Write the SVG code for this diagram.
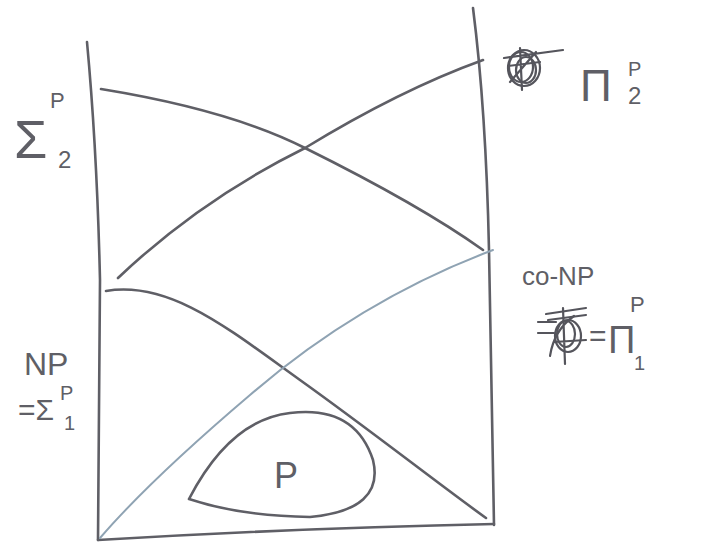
<svg xmlns="http://www.w3.org/2000/svg" width="720" height="550" viewBox="0 0 720 550">
<style>
.ln{fill:none;stroke:#5f5f66;stroke-width:2.6;stroke-linecap:round;stroke-linejoin:round}
.lt{fill:none;stroke:#8fa3b3;stroke-width:2;stroke-linecap:round}
.sc{fill:none;stroke:#55555c;stroke-width:2.2;stroke-linecap:round}
text{font-family:"Liberation Sans","DejaVu Sans",sans-serif;fill:#5f5f66}
</style>
<rect width="720" height="550" fill="#ffffff"/>
<g id="connectors">
<path class="ln" d="M87,42 Q97,150 100,280 L98,540"/>
<path class="ln" d="M473,8 Q486,110 489,250 L494,525"/>
<path class="ln" d="M98,540 Q300,528 494,524"/>
<path class="ln" d="M101,89 Q230,110 305,148 Q420,205 483,250"/>
<path class="ln" d="M118,278 Q200,200 305,148 Q400,90 483,60"/>
<path class="ln" d="M106,291 C170,280 230,330 300,380 S440,485 486,518"/>
<path class="lt" d="M100,538 Q150,480 250,395 Q360,300 493,250"/>
</g>
<g id="P">
<path class="ln" d="M189,499 Q230,420 290,413 Q355,405 373,460 Q385,510 310,517 Q240,516 189,499 Z"/>
<text x="274" y="488" font-size="36">P</text>
</g>
<g id="sigma2">
<text x="14" y="158" font-size="54">Σ</text>
<text x="50" y="108" font-size="22">P</text>
<text x="58" y="168" font-size="24">2</text>
</g>
<g id="pi2">
<ellipse class="sc" cx="524" cy="68" rx="16" ry="18"/>
<ellipse class="sc" cx="521" cy="67" rx="12" ry="15"/>
<ellipse class="sc" cx="526" cy="70" rx="10" ry="13"/>
<path class="sc" d="M504,58 L563,50 M510,82 L536,52 M520,48 L522,90 M508,66 L540,62"/>
<text x="580" y="101" font-size="44">Π</text>
<text x="628" y="76" font-size="20">P</text>
<text x="628" y="104" font-size="24">2</text>
</g>
<g id="conp">
<text x="522" y="285" font-size="26">co-NP</text>
<path class="sc" d="M538,322 L556,322 M538,333 L554,333 M546,314 L586,308 M548,320 L586,315"/>
<ellipse class="sc" cx="568" cy="336" rx="13" ry="16"/>
<ellipse class="sc" cx="566" cy="334" rx="9" ry="13"/>
<path class="sc" d="M550,356 Q554,330 574,316 M563,308 L565,364 M554,342 L586,340"/>
<text x="589" y="346" font-size="30">=</text>
<text x="608" y="353" font-size="38">Π</text>
<text x="630" y="312" font-size="22">P</text>
<text x="634" y="370" font-size="20">1</text>
</g>
<g id="np">
<text x="24" y="375" font-size="32">NP</text>
<text x="18" y="420" font-size="30">=Σ</text>
<text x="60" y="400" font-size="20">P</text>
<text x="64" y="430" font-size="20">1</text>
</g>
</svg>
